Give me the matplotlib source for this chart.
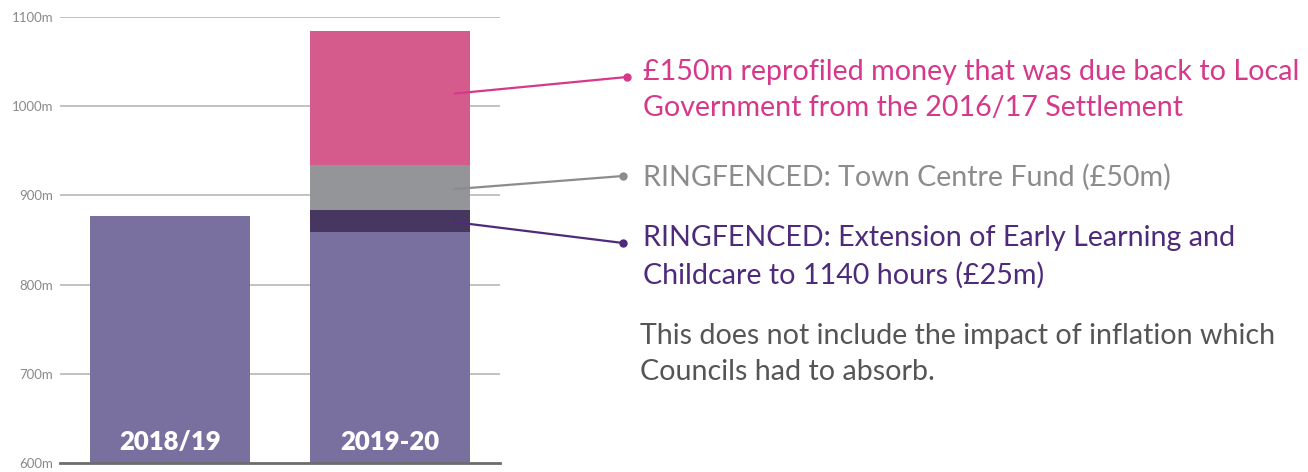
import matplotlib
matplotlib.use("Agg")
import matplotlib.pyplot as plt

# data
years = ["2018/19", "2019-20"]
base = [877, 859]
early_learning = [0, 25]
town_centre = [0, 50]
reprofiled = [0, 150]
yticks = [600, 700, 800, 900, 1000, 1100]

c_base = "#7a70a0"
c_dark = "#47365f"
c_grey = "#939598"
c_pink = "#d55b8d"

plt.rcParams["font.family"] = ["Lato", "DejaVu Sans"]

fig = plt.figure(figsize=(13.08, 4.72), dpi=100)
ax = fig.add_axes([60 / 1308, 8.7 / 472, 440 / 1308, 446.6 / 472])

x = [0, 1]
w = 0.723
ax.bar(x, base, w, bottom=0, color=c_base, zorder=2)
b1 = [b + e for b, e in zip(base, early_learning)]
b2 = [b + t for b, t in zip(b1, town_centre)]
ax.bar(x[1], early_learning[1], w, bottom=base[1], color=c_dark, zorder=2)
ax.bar(x[1], town_centre[1], w, bottom=b1[1], color=c_grey, zorder=2)
ax.bar(x[1], reprofiled[1], w, bottom=b2[1], color=c_pink, zorder=2)

ax.set_xlim(-0.5, 1.5)
ax.set_ylim(600, 1100)
ax.set_yticks(yticks)
ax.set_yticklabels([f"{v}m" for v in yticks])
ax.set_xticks([])
ax.tick_params(axis="y", length=0, pad=5, labelsize=9.5, labelcolor="#8a8a8a")
for s in ax.spines.values():
    s.set_visible(False)
for v in yticks[1:]:
    ax.axhline(v, color="#bdbdbd", lw=1.3, zorder=1)
ax.axhline(600, color="#6d6d6d", lw=2, zorder=3, clip_on=False)

for xi, lab in zip(x, years):
    ax.text(xi, 624, lab, ha="center", va="center", color="white",
            fontsize=18.5, fontweight="heavy", zorder=4)

# leader lines from bar segments to notes
notes = [
    (b2[1] + 80, (627, 77), "#d6388a",
     "£150m reprofiled money that was due back to Local\nGovernment from the 2016/17 Settlement", 90),
    (b1[1] + 23, (623, 176), "#8c8c8c",
     "RINGFENCED: Town Centre Fund (£50m)", 177),
    (base[1] + 11, (623, 243), "#4e2a7a",
     "RINGFENCED: Extension of Early Learning and\nChildcare to 1140 hours (£25m)", 257),
]
for yv, (px, py), col, txt, ty in notes:
    fx, fy = px / 1308, 1 - py / 472
    ax.annotate("", xy=(1.295, yv), xycoords="data",
                xytext=(fx, fy), textcoords="figure fraction",
                arrowprops=dict(arrowstyle="-", color=col, lw=1.6,
                                shrinkA=0, shrinkB=0))
    fig.add_artist(plt.Line2D([fx], [fy], marker="o", ms=5, color=col,
                              transform=fig.transFigure))
    fig.text(643 / 1308, 1 - ty / 472, txt, color=col, fontsize=20.6,
             ha="left", va="center", linespacing=1.5)

fig.text(640 / 1308, 1 - 354 / 472,
         "This does not include the impact of inflation which\nCouncils had to absorb.",
         color="#555555", fontsize=20.6, ha="left", va="center", linespacing=1.5)

fig.savefig("out.png", dpi=100)
